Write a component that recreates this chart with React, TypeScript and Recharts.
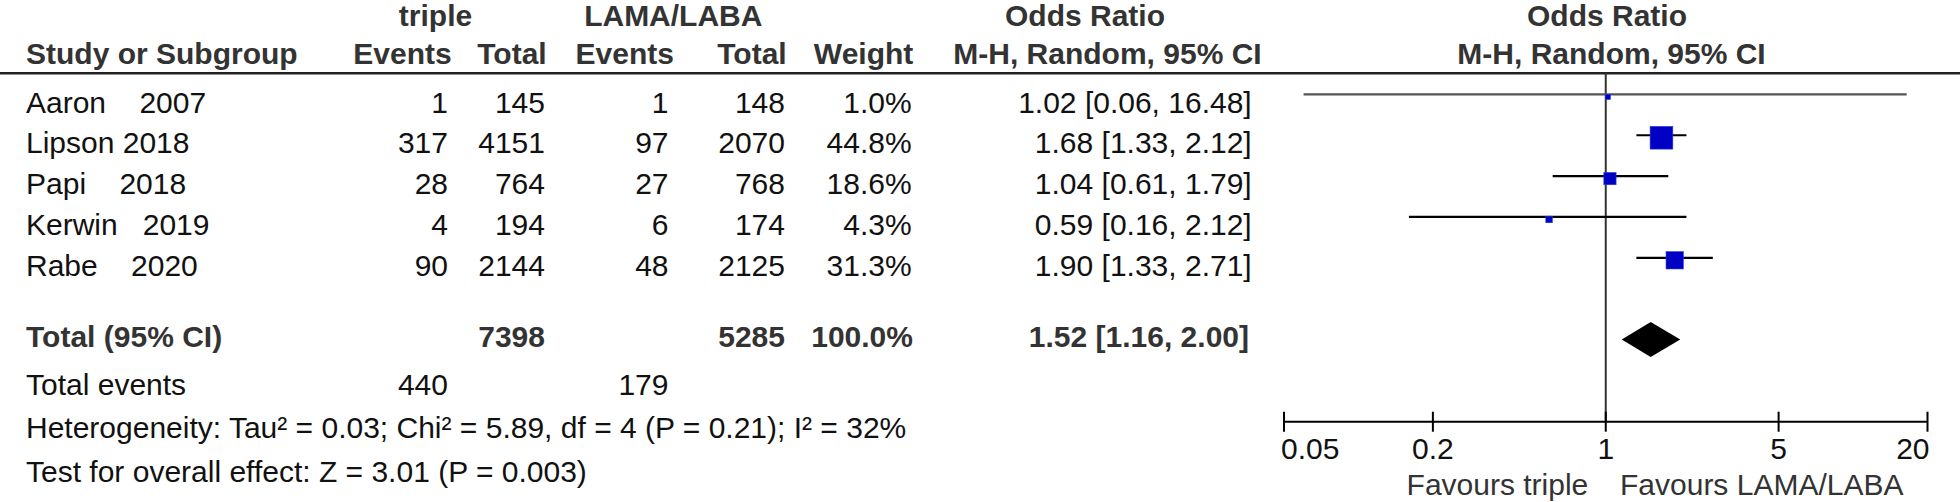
import React from 'react';
import { ComposedChart, XAxis, YAxis, Scatter, ReferenceLine, ReferenceArea, Customized } from 'recharts';

const studies = ['Aaron    2007', 'Lipson 2018', 'Papi    2018', 'Kerwin   2019', 'Rabe    2020'];
const tripleEvents = [1, 317, 28, 4, 90];
const tripleTotal = [145, 4151, 764, 194, 2144];
const lamaEvents = [1, 97, 27, 6, 48];
const lamaTotal = [148, 2070, 768, 174, 2125];
const weights = [1.0, 44.8, 18.6, 4.3, 31.3];
const oddsRatio = [1.02, 1.68, 1.04, 0.59, 1.9];
const ciLow = [0.06, 1.33, 0.61, 0.16, 1.33];
const ciHigh = [16.48, 2.12, 1.79, 2.12, 2.71];

const pooledOr = 1.52;
const pooledLow = 1.16;
const pooledHigh = 2.0;
const pooledRow = 6;
const totalTriple = 7398;
const totalLama = 5285;
const eventsTriple = 440;
const eventsLama = 179;
const heterogeneity = 'Heterogeneity: Tau² = 0.03; Chi² = 5.89, df = 4 (P = 0.21); I² = 32%';
const overallEffect = 'Test for overall effect: Z = 3.01 (P = 0.003)';

const xTicks = [0.05, 0.2, 1, 5, 20];

const FONT = '"Liberation Sans", Arial, Helvetica, sans-serif';
const W = 1960;
const H = 502;

const points = studies.map((s, i) => ({ x: oddsRatio[i], y: i, w: weights[i] }));
const fmtCi = (o: number, l: number, h: number) => `${o.toFixed(2)} [${l.toFixed(2)}, ${h.toFixed(2)}]`;

// square side grows with the study weight
const Box = (p: any) => {
  const s = 4.8 + 0.4 * p.payload.w;
  return <rect x={p.cx - s / 2} y={p.cy - s / 2 + 2.5} width={s} height={s} fill="#0000C4" stroke="#2a3ad8" strokeWidth={0.6} />;
};

const Diamond = (p: any) => {
  const { x, y, width, height } = p;
  const t = (Math.log(pooledOr) - Math.log(pooledLow)) / (Math.log(pooledHigh) - Math.log(pooledLow));
  const cx = x + width * t;
  const cy = y + height / 2;
  return <polygon points={`${x},${cy} ${cx},${y} ${x + width},${cy} ${cx},${y + height}`} fill="#000" />;
};

const Tick = (p: any) => {
  const { x, y, payload, index } = p;
  const last = xTicks.length - 1;
  const anchor = index === 0 ? 'start' : index === last ? 'end' : 'middle';
  const dx = index === 0 ? -3 : index === last ? 2 : 0;
  return (
    <g>
      <line x1={x} x2={x} y1={y - 10} y2={y + 10} stroke="#000" strokeWidth={2} />
      <text x={x + dx} y={y + 37} textAnchor={anchor} fontFamily={FONT} fontSize={30} fill="#111">
        {payload.value}
      </text>
    </g>
  );
};

const T = (props: any) => (
  <text fontFamily={FONT} fontSize={30} fill={props.bold ? '#333' : '#111'} fontWeight={props.bold ? 'bold' : 'normal'} xmlSpace="preserve" style={{ whiteSpace: 'pre' }} {...props} bold={undefined}>
    {props.children}
  </text>
);

const rowBase = (i: number) => 112.5 + 40.85 * i;

const Table = () => (
  <g>
    <line x1={0} x2={W} y1={73.3} y2={73.3} stroke="#222" strokeWidth={2.5} />
    <T bold x={435.5} y={26} textAnchor="middle">triple</T>
    <T bold x={673.3} y={26} textAnchor="middle">LAMA/LABA</T>
    <T bold x={1085} y={26} textAnchor="middle">Odds Ratio</T>
    <T bold x={1607} y={26} textAnchor="middle">Odds Ratio</T>
    <T bold x={26} y={64}>Study or Subgroup</T>
    <T bold x={451.7} y={64} textAnchor="end">Events</T>
    <T bold x={546.7} y={64} textAnchor="end">Total</T>
    <T bold x={674} y={64} textAnchor="end">Events</T>
    <T bold x={786.7} y={64} textAnchor="end">Total</T>
    <T bold x={913.3} y={64} textAnchor="end">Weight</T>
    <T bold x={953.3} y={64}>M-H, Random, 95% CI</T>
    <T bold x={1611.5} y={64} textAnchor="middle">M-H, Random, 95% CI</T>
    {studies.map((s, i) => (
      <g key={s}>
        <T x={26} y={rowBase(i)}>{s}</T>
        <T x={448} y={rowBase(i)} textAnchor="end">{tripleEvents[i]}</T>
        <T x={545} y={rowBase(i)} textAnchor="end">{tripleTotal[i]}</T>
        <T x={668.5} y={rowBase(i)} textAnchor="end">{lamaEvents[i]}</T>
        <T x={785} y={rowBase(i)} textAnchor="end">{lamaTotal[i]}</T>
        <T x={911.7} y={rowBase(i)} textAnchor="end">{weights[i].toFixed(1)}%</T>
        <T x={1251.7} y={rowBase(i)} textAnchor="end">{fmtCi(oddsRatio[i], ciLow[i], ciHigh[i])}</T>
      </g>
    ))}
    <T bold x={26} y={347}>Total (95% CI)</T>
    <T bold x={545} y={347} textAnchor="end">{totalTriple}</T>
    <T bold x={785} y={347} textAnchor="end">{totalLama}</T>
    <T bold x={913} y={347} textAnchor="end">{weights.reduce((a, b) => a + b, 0).toFixed(1)}%</T>
    <T bold x={1249} y={347} textAnchor="end">{fmtCi(pooledOr, pooledLow, pooledHigh)}</T>
    <T x={26} y={394.5}>Total events</T>
    <T x={448} y={394.5} textAnchor="end">{eventsTriple}</T>
    <T x={668.5} y={394.5} textAnchor="end">{eventsLama}</T>
    <T x={26} y={438}>{heterogeneity}</T>
    <T x={26} y={482}>{overallEffect}</T>
    <text x={1588.3} y={495} textAnchor="end" fontFamily={FONT} fontSize={30} fill="#333">Favours triple</text>
    <text x={1620} y={495} fontFamily={FONT} fontSize={30} fill="#333">Favours LAMA/LABA</text>
  </g>
);

export default function App() {
  return (
    <div style={{ position: 'absolute', left: 0, top: 0, width: W, height: H, background: '#fff' }}>
      <ComposedChart width={W} height={H} margin={{ top: 73, right: 32.5, bottom: 50.3, left: 1284 }}>
        <XAxis
          type="number"
          dataKey="x"
          scale="log"
          domain={[0.05, 20]}
          allowDataOverflow
          ticks={xTicks}
          interval={0}
          height={30}
          tickSize={0}
          tickMargin={0}
          tickLine={false}
          axisLine={{ stroke: '#000', strokeWidth: 2 }}
          tick={<Tick />}
        />
        <YAxis type="number" dataKey="y" domain={[-0.524, 8.012]} reversed allowDataOverflow hide width={0} />
        <ReferenceLine x={1} stroke="#333" strokeWidth={2} />
        {studies.map((s, i) => (
          <ReferenceLine
            key={s}
            segment={[{ x: ciLow[i], y: i }, { x: ciHigh[i], y: i }]}
            stroke={i === 0 ? '#555' : '#000'}
            strokeWidth={2.2}
          />
        ))}
        <Scatter data={points} shape={<Box />} isAnimationActive={false} />
        <ReferenceArea x1={pooledLow} x2={pooledHigh} y1={pooledRow - 0.43} y2={pooledRow + 0.43} shape={<Diamond />} />
        <Customized component={<Table />} />
      </ComposedChart>
    </div>
  );
}
